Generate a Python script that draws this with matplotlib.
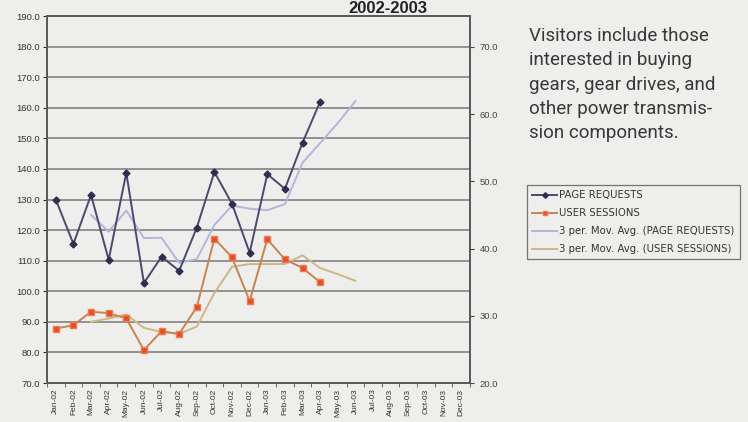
import matplotlib
matplotlib.use("Agg")
import matplotlib.pyplot as plt
import numpy as np

plt.rcParams["font.family"] = ["Liberation Sans", "DejaVu Sans"]

# Monthly web traffic, 2002-2003
months = ["Jan-02", "Feb-02", "Mar-02", "Apr-02", "May-02", "Jun-02", "Jul-02", "Aug-02",
          "Sep-02", "Oct-02", "Nov-02", "Dec-02", "Jan-03", "Feb-03", "Mar-03", "Apr-03",
          "May-03", "Jun-03", "Jul-03", "Aug-03", "Sep-03", "Oct-03", "Nov-03", "Dec-03"]

page_requests = [130.0, 115.5, 131.5, 110.3, 138.7, 102.7, 111.3, 106.7,
                 120.8, 139.0, 128.6, 112.6, 138.3, 133.5, 148.6, 162.0]
user_sessions = [28.1, 28.6, 30.6, 30.4, 29.6, 24.9, 27.7, 27.3,
                 31.3, 41.5, 38.7, 32.2, 41.4, 38.4, 37.1, 35.0]

# 3-period moving averages (Mar-02 .. Jun-03)
ma_page = [125.0, 119.5, 126.4, 117.4, 117.5, 109.3, 110.5, 121.7,
           128.0, 127.0, 126.5, 128.5, 142.0, 148.5, 155.0, 162.2]
ma_sessions = [29.1, 29.6, 30.2, 28.2, 27.6, 27.3, 28.4, 33.4,
               37.3, 37.7, 37.7, 37.7, 39.0, 37.1, 36.2, 35.2]

left_ticks = np.arange(70, 191, 10)
right_ticks = np.arange(20, 71, 10)

bg = "#eeeeec"
fig = plt.figure(figsize=(7.48, 4.22), dpi=100, facecolor=bg)
ax = fig.add_axes([0.0628, 0.0924, 0.5655, 0.8696], facecolor=bg)
ax2 = ax.twinx()

x = np.arange(len(months))
xp = x[:len(page_requests)]
xma = x[2:2 + len(ma_page)]

grid_c = "#8a8a8a"
for v in left_ticks[1:-1]:
    ax.axhline(v, color=grid_c, lw=1.3, zorder=0)

ax.plot(xma, ma_page, color="#b4b4dc", lw=1.4, zorder=2, label="3 per. Mov. Avg. (PAGE REQUESTS)")
ax.plot(xp, page_requests, color="#4a4a6e", lw=1.4, marker="D", ms=3.5,
        mfc="#2e2e50", mec="#2e2e50", zorder=3, label="PAGE REQUESTS")

ax2.plot(xma, ma_sessions, color="#cdb784", lw=1.4, zorder=2, label="3 per. Mov. Avg. (USER SESSIONS)")
ax2.plot(xp, user_sessions, color="#c8844e", lw=1.4, marker="s", ms=4,
         mfc="#e0502c", mec="#f07a50", zorder=3, label="USER SESSIONS")

ax.set_xlim(-0.5, len(months) - 0.5)
ax.set_ylim(70, 190)
ax2.set_ylim(20, 74.6)

ax.set_yticks(left_ticks)
ax.set_yticklabels([f"{v:.1f}" for v in left_ticks])
ax2.set_yticks(right_ticks)
ax2.set_yticklabels([f"{v:.1f}" for v in right_ticks])

ax.set_xticks(x)
ax.set_xticklabels(months, rotation=90)
ax.set_xticks(np.arange(-0.5, len(months), 1), minor=True)
ax.tick_params(axis="x", which="major", length=0, labelsize=6, colors="#333333", pad=4)
ax.tick_params(axis="x", which="minor", length=3, color="#555555")
ax.tick_params(axis="y", length=3, labelsize=6.8, colors="#333333", pad=2)
ax2.tick_params(axis="y", length=3, labelsize=6.8, colors="#444444", pad=4)

for a in (ax, ax2):
    for s in a.spines.values():
        s.set_color("#5a5a5a")
        s.set_linewidth(1.3)

fig.text(0.518, 1.0 - 1 / 422, "2002-2003", ha="center", va="top",
         fontsize=12, fontweight="bold", color="#222222")

note = ("Visitors include those\ninterested in buying\ngears, gear drives, and\n"
        "other power transmis-\nsion components.")
fig.text(529 / 748, 1 - 27 / 422, note, ha="left", va="top", fontsize=13.5,
         color="#383838", family="Roboto", linespacing=1.45)

h1, l1 = ax.get_legend_handles_labels()
h2, l2 = ax2.get_legend_handles_labels()
handles = [h1[1], h2[1], h1[0], h2[0]]
labels = [l1[1], l2[1], l1[0], l2[0]]
leg = fig.legend(handles, labels, loc="upper left", bbox_to_anchor=(527 / 748, 1 - 185 / 422),
                 borderaxespad=0, prop={"family": "DejaVu Sans", "size": 7.3},
                 frameon=True, fancybox=False, edgecolor="#555555", facecolor=bg,
                 handlelength=2.5, handletextpad=0.2, labelspacing=0.8, borderpad=0.5,
                 markerscale=0.8)
leg.get_frame().set_linewidth(0.9)
for t in leg.get_texts():
    t.set_color("#333333")

fig.savefig("out.png", dpi=100, facecolor=bg)
